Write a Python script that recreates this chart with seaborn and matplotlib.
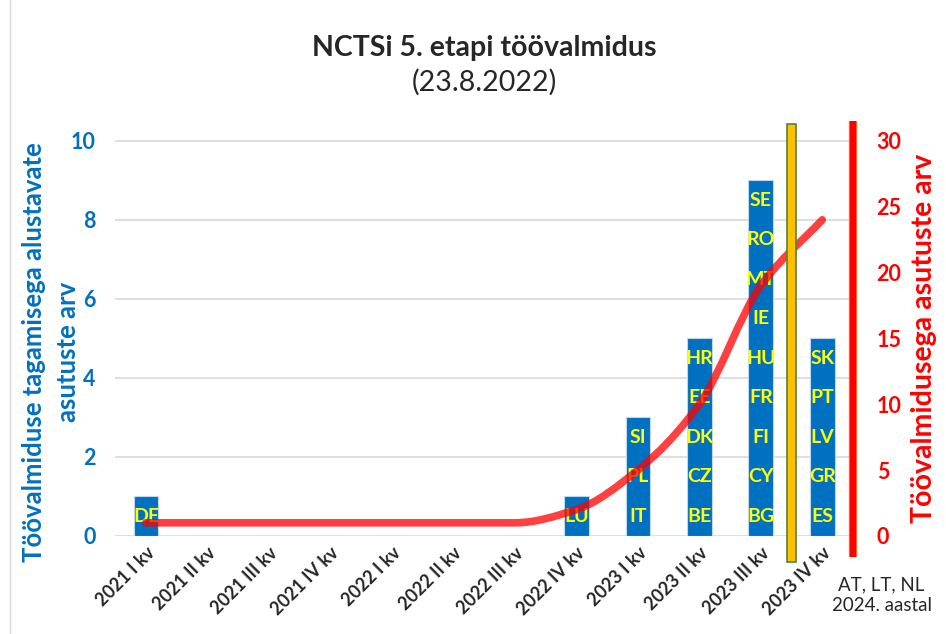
import matplotlib
matplotlib.use("Agg")
import matplotlib.pyplot as plt
import matplotlib.patheffects as pe
from matplotlib.path import Path
from matplotlib.patches import PathPatch, Rectangle
import numpy as np
import pandas as pd
import seaborn as sns

# data
quarters = ["2021 I kv", "2021 II kv", "2021 III kv", "2021 IV kv",
            "2022 I kv", "2022 II kv", "2022 III kv", "2022 IV kv",
            "2023 I kv", "2023 II kv", "2023 III kv", "2023 IV kv"]
country_codes = [
    ["DE"], [], [], [], [], [], [], ["LU"],
    ["IT", "PL", "SI"],
    ["BE", "CZ", "DK", "EE", "HR"],
    ["BG", "CY", "FI", "FR", "HU", "IE", "MT", "RO", "SE"],
    ["ES", "GR", "LV", "PT", "SK"],
]
started = [len(c) for c in country_codes]
ready_total = [1, 1, 1, 1, 1, 1, 1, 2, 5, 10, 19, 24]

BLUE = "#0070C0"
RED = "#FF0000"

sns.set_style("white")
plt.rcParams["font.family"] = ["Lato", "DejaVu Sans"]

fig = plt.figure(figsize=(9.46, 6.34), dpi=100)
ax = fig.add_axes([0.1218, 0.1546, 0.7799, 0.6546])

df = pd.DataFrame({"quarter": quarters, "started": started})
sns.barplot(data=df, x="quarter", y="started", order=quarters, color=BLUE,
            saturation=1, width=0.4, edgecolor="#BDD7EE", linewidth=0.8, ax=ax)

for i, codes in enumerate(country_codes):
    for j, code in enumerate(codes):
        ax.text(i, j + 0.5, code, ha="center", va="center", color="#FFFF00",
                fontsize=14, fontweight="bold", zorder=5)

ax.set_xlim(-0.5, len(quarters) - 0.5)
ax.set_ylim(0, 10.5)
ax.set_yticks(range(0, 11, 2))
ax.yaxis.grid(True, color="#D9D9D9", linewidth=1.2)
ax.set_axisbelow(True)
for s in ax.spines.values():
    s.set_visible(False)
ax.tick_params(axis="y", length=0, pad=14, labelcolor=BLUE, labelsize=15.5)
ax.tick_params(axis="x", length=0, pad=6, labelsize=13)
for lbl in ax.get_yticklabels():
    lbl.set_fontweight("bold")
ax.set_xticks(range(len(quarters)))
ax.set_xticklabels(quarters, rotation=45, ha="right", rotation_mode="anchor",
                   fontweight="bold")
ax.set_xlabel("")
ax.set_ylabel("")

# right axis with smoothed cumulative line
ax2 = ax.twinx()
ax2.set_ylim(0, 31.5)
ax2.set_yticks(range(0, 31, 5))
for s in ax2.spines.values():
    s.set_visible(False)
ax2.tick_params(axis="y", length=0, pad=17, labelcolor=RED, labelsize=15.5)
for lbl in ax2.get_yticklabels():
    lbl.set_fontweight("bold")

# monotone cubic bezier through the data points
xs = np.arange(len(quarters), dtype=float)
ys = np.array(ready_total, dtype=float)
slopes = np.diff(ys) / np.diff(xs)
tang = np.zeros_like(ys)
tang[0], tang[-1] = slopes[0], slopes[-1]
for k in range(1, len(ys) - 1):
    a, b = slopes[k - 1], slopes[k]
    tang[k] = 0.0 if a * b <= 0 else 2 * a * b / (a + b)
verts = [(xs[0], ys[0])]
codes = [Path.MOVETO]
for k in range(len(xs) - 1):
    h = xs[k + 1] - xs[k]
    verts += [(xs[k] + h / 3, ys[k] + tang[k] * h / 3),
              (xs[k + 1] - h / 3, ys[k + 1] - tang[k + 1] * h / 3),
              (xs[k + 1], ys[k + 1])]
    codes += [Path.CURVE4] * 3
ax2.add_patch(PathPatch(Path(verts, codes), fill=False, edgecolor=RED,
                        alpha=0.75, linewidth=5.5, capstyle="round",
                        joinstyle="round", zorder=3))

# yellow separator between 2023 III and 2023 IV
ax2.add_patch(Rectangle((10.5 - 0.08, -2.0), 0.16, 33.3, facecolor="#FFC000",
                        edgecolor="#548235", linewidth=1.2, clip_on=False,
                        zorder=6))

# thick red right axis line
ax2.plot([1, 1], [-0.05, 1.0], transform=ax2.transAxes, color=RED,
         linewidth=4.5, clip_on=False, zorder=7, solid_capstyle="butt",
         path_effects=[pe.Stroke(linewidth=6, foreground="#ED7D31"), pe.Normal()])

fig.text(0.512, 0.924, "NCTSi 5. etapi töövalmidus", ha="center", va="center",
         fontsize=20.5, fontweight="bold")
fig.text(0.512, 0.870, "(23.8.2022)", ha="center", va="center", fontsize=20.5)

fig.text(0.036, 0.445, "Töövalmiduse tagamisega alustavate",
         ha="center", va="center", rotation=90, color=BLUE, fontsize=18.5,
         fontweight="bold")
fig.text(0.072, 0.445, "asutuste arv",
         ha="center", va="center", rotation=90, color=BLUE, fontsize=18.5,
         fontweight="bold")
fig.text(0.977, 0.467, "Töövalmidusega asutuste arv", ha="center", va="center",
         rotation=90, color=RED, fontsize=20.5, fontweight="bold")

fig.text(0.932, 0.061, "AT, LT, NL\n2024. aastal", ha="center", va="center",
         fontsize=13.5, linespacing=1.25)

fig.add_artist(plt.Line2D([0.011, 0.011], [0, 1], color="#D9D9D9", linewidth=1))

fig.savefig("out.png", dpi=100)
